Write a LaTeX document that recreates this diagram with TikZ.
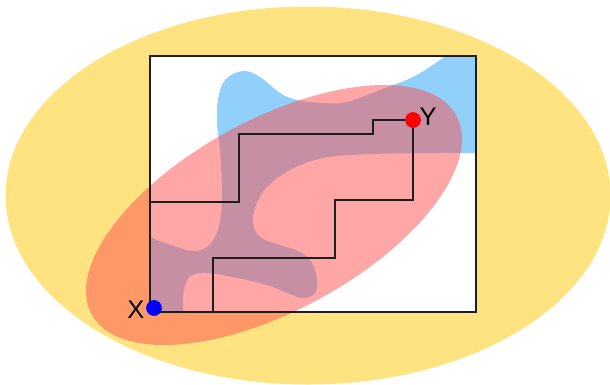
\documentclass[tikz,border=0pt]{standalone}
\usepackage{fontspec}
\setmainfont{Liberation Sans}
\definecolor{yellowc}{RGB}{255,227,128}
\definecolor{bluec}{RGB}{144,208,250}
\definecolor{pinkc}{RGB}{255,79,79}
\definecolor{linec}{RGB}{30,30,30}
\tikzset{
  stair/.style={draw=linec, line width=1.4pt, line join=miter},
  dot/.style={circle, inner sep=0pt, minimum size=15.5pt},
  lab/.style={font=\fontsize{25.5}{30}\selectfont, inner sep=0pt, text=black},
}
\begin{document}
\begin{tikzpicture}[x=1pt, y=-1pt]
\path[use as bounding box] (0,0) rectangle (610,384);
% big yellow ellipse
\fill[yellowc] (308,195.5) ellipse [x radius=302.5, y radius=189];
% white box
\node[fill=white, draw=none, minimum width=325.5pt, minimum height=255.5pt, inner sep=0pt, anchor=south west] (box) at (150,312) {};
% blue blob clipped to the box
\begin{scope}
\clip (150,56.5) rectangle (475.5,312);
\fill[bluec] plot[smooth, tension=0.6] coordinates {(150,237) (157,240) (177,247) (193,251) (207,247) (217,233) (221,213) (222,190) (220,150) (217,123) (218,100) (225,80) (243,71) (260,77) (280,93) (297,100) (323,103) (347,102) (380,90) (413,77) (440,60) (452,50)}
  -- (490,45) -- (490,153)
  -- plot[smooth, tension=0.6] coordinates {(475,153) (440,153) (373,154) (323,158) (290,170) (267,187) (256,205) (253,223) (260,237) (280,245) (300,252) (312,263) (317,280) (315,293) (303,298) (287,293) (267,285) (233,277) (207,273) (192,275) (186,283) (183,297) (183,320)}
  -- (140,320) -- (140,237) -- cycle;
\end{scope}
% pink ellipse
\fill[pinkc, opacity=0.5, rotate around={28.6:(274,215)}] (274,215) ellipse [x radius=207.7, y radius=95.4];
% box border
\draw[draw=linec, line width=1.3pt] (box.south west) rectangle (box.north east);
% dots
\node[dot, fill=blue] (X) at (154,308) {};
\node[dot, fill=red] (Y) at (413,120) {};
% staircase paths
\draw[stair] (box.south west) -- (213,312) -- (213,258) -- (335,258) -- (335,200) -- (413,200) -- (Y.south);
\draw[stair] (box.south west) -- (150,202) -- (239,202) -- (239,134) -- (373,134) -- (373,120) -- (Y.west);
% redraw dots on top
\node[dot, fill=blue] at (X.center) {};
\node[dot, fill=red] at (Y.center) {};
% labels
\node[lab] (xlab) at (136,310) {X};
\node[lab] (ylab) at (428,117) {Y};
\end{tikzpicture}
\end{document}
